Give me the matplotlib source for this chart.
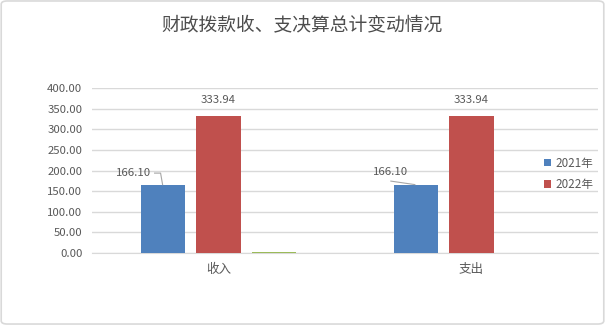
import matplotlib
matplotlib.use("Agg")
import matplotlib.pyplot as plt
import numpy as np
from matplotlib.patches import FancyBboxPatch
from matplotlib.lines import Line2D
from matplotlib.transforms import IdentityTransform

plt.rcParams['font.family'] = ['Noto Sans CJK SC', 'DejaVu Sans']

categories = ["收入", "支出"]
series_names = ["2021年", "2022年", ""]
values_2021 = [166.10, 166.10]
values_2022 = [333.94, 333.94]
values_other = [3.0, 0.0]
yticks = [0, 50, 100, 150, 200, 250, 300, 350, 400]

colors = ["#4F81BD", "#C0504D", "#9BBB59"]
text_color = "#595959"
grid_color = "#D9D9D9"
W, H = 605, 325

fig = plt.figure(figsize=(W / 100, H / 100), dpi=100)
fig.patch.set_facecolor("white")
border = FancyBboxPatch((0.002, 0.003), 0.996, 0.994, boxstyle="round,pad=0,rounding_size=0.01",
                        transform=fig.transFigure, facecolor="none", edgecolor="#D9D9D9", lw=1.2)
fig.patches.append(border)

ax = fig.add_axes([92 / W, 72 / H, 506 / W, 164.7 / H])
x = np.arange(len(categories))
width = 0.174
step = 0.221

bars_a = ax.bar(x - step, values_2021, width, color=colors[0], label=series_names[0], zorder=3)
bars_b = ax.bar(x, values_2022, width, color=colors[1], label=series_names[1], zorder=3)
bars_c = ax.bar(x + step, values_other, width, color=colors[2], zorder=3)

ax.set_xlim(-0.5, 1.5)
ax.set_ylim(0, 400)
ax.set_yticks(yticks)
ax.set_yticklabels([f"{v:.2f}" for v in yticks], color=text_color, fontsize=8.2)
ax.set_xticks(x)
ax.set_xticklabels(categories, color=text_color, fontsize=9)
ax.tick_params(axis="both", length=0)
ax.tick_params(axis="y", pad=7)
ax.tick_params(axis="x", pad=7)
ax.grid(axis="y", color=grid_color, lw=1, zorder=0)
for side in ["top", "right", "left"]:
    ax.spines[side].set_visible(False)
ax.spines["bottom"].set_color(grid_color)
ax.spines["bottom"].set_zorder(1)

# value labels on the 2022 bars
for b, v in zip(bars_b, values_2022):
    ax.annotate(f"{v:.2f}", (b.get_x() + b.get_width() / 2, v), xytext=(0, 16),
                textcoords="offset pixels", ha="center", va="center",
                color=text_color, fontsize=8.2)

# value labels on the 2021 bars, pulled aside with leader lines (pixel offsets from bar top)
label_offsets = [(-29.5, 11.5), (-25, 12.8)]
leader_paths = [[(-8, 11.5), (-2, 11.5), (0, 0)],
                [(-24.7, 3.5), (-0.7, 0)]]
for b, v, off, path in zip(bars_a, values_2021, label_offsets, leader_paths):
    cx = b.get_x() + b.get_width() / 2
    ax.annotate(f"{v:.2f}", (cx, v), xytext=off,
                textcoords="offset pixels", ha="center", va="center",
                color=text_color, fontsize=8.2)
    px, py = ax.transData.transform((cx, v))
    xs = [px + dx for dx, dy in path]
    ys = [py + dy for dx, dy in path]
    fig.add_artist(Line2D(xs, ys, transform=IdentityTransform(), color="#A6A6A6", lw=0.8))

handles = [bars_a, bars_b]
leg = fig.legend(handles, series_names[:2], loc="center left",
                 bbox_to_anchor=(538 / W, 1 - 174 / H), frameon=False,
                 fontsize=8.4, handlelength=0.65, handleheight=0.65,
                 handletextpad=0.35, labelspacing=0.75, borderpad=0)
for t in leg.get_texts():
    t.set_color(text_color)

fig.text(302 / W, 1 - 25 / H, "财政拨款收、支决算总计变动情况", ha="center", va="center",
         fontsize=13.5, color="#4D4D4D", fontweight="medium")

fig.savefig("out.png", dpi=100, facecolor="white")
